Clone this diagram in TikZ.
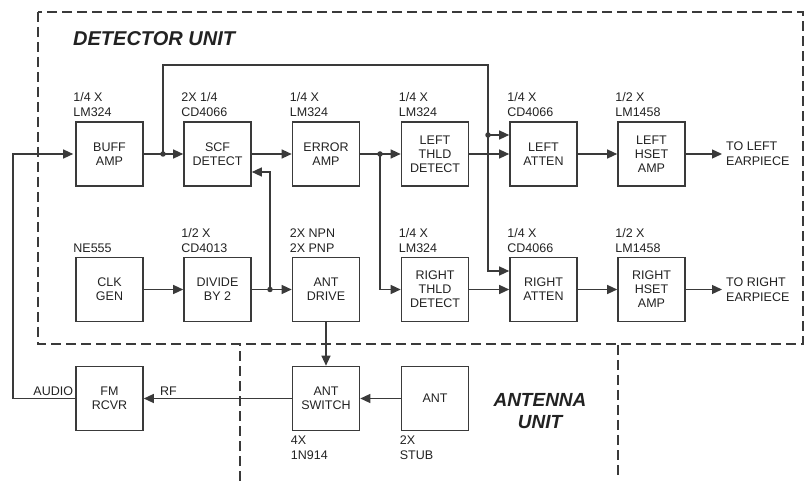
\documentclass[tikz,border=0pt]{standalone}
\usepackage{fontspec}
\setmainfont{Liberation Sans}
\usetikzlibrary{arrows.meta}
\definecolor{ln}{HTML}{3A3A3A}
\definecolor{tx}{HTML}{222222}
\tikzset{
  blk/.style={draw=ln, line width=1.6pt, minimum width=67pt, minimum height=64pt, inner sep=0pt,
              align=center, text=tx, font=\fontsize{12.5}{14}\selectfont},
  lbl/.style={inner sep=0pt, align=left, text=tx, font=\fontsize{12.5}{15}\selectfont},
  wire/.style={draw=ln, line width=1.3pt},
  arr/.style={wire, -{Triangle[length=10pt,width=9pt]}},
  jdot/.style={circle, fill=ln, inner sep=0pt, minimum size=5.5pt},
  unitbox/.style={draw=ln, line width=1.5pt, dash pattern=on 10pt off 5pt},
  heading/.style={inner sep=0pt, align=center, text=tx, font=\fontsize{19}{22}\selectfont\bfseries\itshape},
}
\begin{document}
\begin{tikzpicture}[x=1pt,y=-1pt]
\useasboundingbox (0,0) rectangle (807,481);
% unit outlines
\draw[unitbox] (38,12) rectangle (803,344);
\draw[unitbox] (240,481) -- (240,345);
\draw[unitbox] (618,345) -- (618,477);
\node[heading, anchor=west, font=\fontsize{20}{22}\selectfont\bfseries\itshape] (dethead) at (73,39) {DETECTOR UNIT};
\node[heading] (anthead) at (540,411) {ANTENNA\\UNIT};

% row 1
\node[blk] (buff) at (109.5,154) {BUFF\\AMP};
\node[blk] (scf) at (217.5,154) {SCF\\DETECT};
\node[blk] (err) at (326,154) {ERROR\\AMP};
\node[blk] (lthld) at (435,154) {LEFT\\THLD\\DETECT};
\node[blk] (latt) at (543.5,154) {LEFT\\ATTEN};
\node[blk] (lhset) at (651.5,154) {LEFT\\HSET\\AMP};
% row 2
\node[blk] (clk) at (109.5,289.5) {CLK\\GEN};
\node[blk] (div) at (217.5,289.5) {DIVIDE\\BY 2};
\node[blk] (drive) at (326,289.5) {ANT\\DRIVE};
\node[blk] (rthld) at (435,289.5) {RIGHT\\THLD\\DETECT};
\node[blk] (ratt) at (543.5,289.5) {RIGHT\\ATTEN};
\node[blk] (rhset) at (651.5,289.5) {RIGHT\\HSET\\AMP};
% row 3
\node[blk] (fm) at (109.5,398.5) {FM\\RCVR};
\node[blk] (sw) at (326,398.5) {ANT\\SWITCH};
\node[blk] (ant) at (435,398.5) {ANT};

% part labels
\foreach \n/\t in {buff/{1/4 X\\LM324}, scf/{2X 1/4\\CD4066}, err/{1/4 X\\LM324},
                   lthld/{1/4 X\\LM324}, latt/{1/4 X\\CD4066}, lhset/{1/2 X\\LM1458},
                   div/{1/2 X\\CD4013}, drive/{2X NPN\\2X PNP},
                   rthld/{1/4 X\\LM324}, ratt/{1/4 X\\CD4066}, rhset/{1/2 X\\LM1458}}
  \node[lbl, anchor=south west] (\n-part) at ([xshift=-2pt,yshift=4pt]\n.north west) {\t};
\node[lbl, anchor=south west] (clk-part) at ([xshift=-2pt,yshift=4pt]clk.north west) {NE555};
\node[lbl, anchor=north west] (sw-part) at ([xshift=-1pt,yshift=-4pt]sw.south west) {4X\\1N914};
\node[lbl, anchor=north west] (ant-part) at ([xshift=-1pt,yshift=-4pt]ant.south west) {2X\\STUB};

% junction points
\coordinate (d1) at (163,154);
\coordinate (t1) at (163,65);
\coordinate (t2) at (488,65);
\coordinate (d2) at (488,135);
\coordinate (c3) at (488,271);
\coordinate (d3) at (380,154);
\coordinate (d4) at (270,289.5);
\coordinate (fb2) at (270,172);
\coordinate (fbk) at (13,398.5);
\coordinate (lout) at (722,154);
\coordinate (rout) at (722,289.5);

% audio feedback
\draw[arr] (fm.west) -- (fbk) |- ([xshift=-2pt]buff.west);
\node[lbl, anchor=south east] (audio) at ([xshift=-2pt,yshift=3pt]fm.west) {AUDIO};

% row 1 wiring
\draw[wire] (buff.east) -- (d1);
\draw[arr] (d1) -- (scf.west);
\draw[wire] (d1) -- (t1) -- (t2) -- (d2);
\draw[arr] (d2) -- (d2 -| latt.west);
\draw[arr] (d2) -- (c3) -- (c3 -| ratt.west);
\draw[arr] (scf.east) -- (err.west);
\draw[wire] (err.east) -- (d3);
\draw[arr] (d3) -- (lthld.west);
\draw[arr] (d3) |- (rthld.west);
\draw[arr] (lthld.east) -- (latt.west);
\draw[arr] (latt.east) -- (lhset.west);
\draw[arr] (lhset.east) -- (lout);
\node[lbl, anchor=west] (ltext) at ([xshift=4pt]lout) {TO LEFT\\EARPIECE};

% row 2 wiring
\draw[arr] (clk.east) -- (div.west);
\draw[wire] (div.east) -- (d4);
\draw[arr] (d4) -- (drive.west);
\draw[arr] (d4) -- (fb2) -- (fb2 -| scf.east);
\draw[arr] (rthld.east) -- (ratt.west);
\draw[arr] (ratt.east) -- (rhset.west);
\draw[arr] (rhset.east) -- (rout);
\node[lbl, anchor=west] (rtext) at ([xshift=4pt]rout) {TO RIGHT\\EARPIECE};

% row 3 wiring
\draw[arr] (drive.south) -- (sw.north);
\draw[arr] (ant.west) -- (sw.east);
\draw[arr] (sw.west) -- (fm.east);
\node[lbl, anchor=south west] (rf) at ([xshift=16pt,yshift=3pt]fm.east) {RF};

% junction dots
\foreach \p in {d1,d2,d3,d4} \node[jdot] at (\p) {};
\end{tikzpicture}
\end{document}
